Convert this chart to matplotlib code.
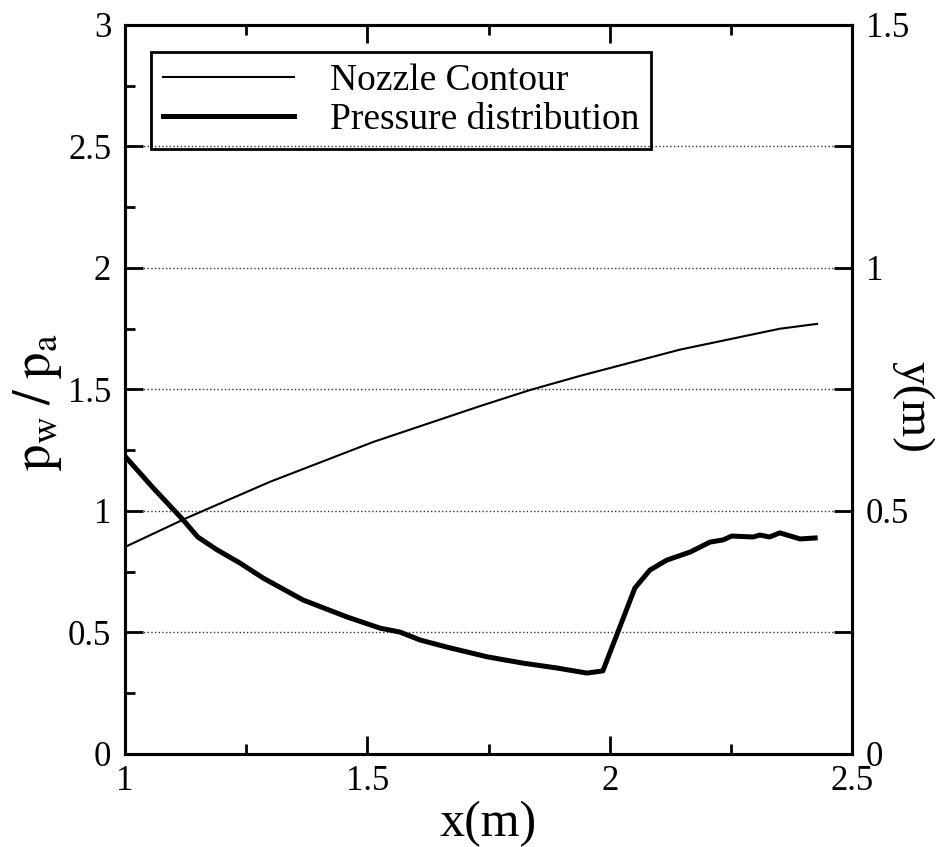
import numpy as np
import matplotlib
matplotlib.use("Agg")
import matplotlib.pyplot as plt
from matplotlib.ticker import MultipleLocator

plt.rcParams['font.family'] = ['Liberation Serif', 'DejaVu Serif']
plt.rcParams['mathtext.fontset'] = 'stix'

# Pressure distribution along the wall (p_w / p_a, left axis)
x_pres = [1.000, 1.058, 1.120, 1.150, 1.190, 1.237, 1.285, 1.367, 1.458, 1.526,
          1.567, 1.609, 1.664, 1.747, 1.821, 1.891, 1.953, 1.986, 2.052, 2.083,
          2.118, 2.166, 2.207, 2.234, 2.252, 2.296, 2.310, 2.330, 2.351, 2.393, 2.424]
p_ratio = [1.225, 1.095, 0.963, 0.893, 0.840, 0.786, 0.724, 0.634, 0.564, 0.518,
           0.502, 0.469, 0.440, 0.400, 0.374, 0.354, 0.333, 0.342, 0.683, 0.757,
           0.798, 0.831, 0.872, 0.881, 0.897, 0.893, 0.901, 0.893, 0.910, 0.885, 0.889]

# Nozzle contour (y in m, right axis)
x_cont = [1.000, 1.128, 1.299, 1.512, 1.733, 1.836, 1.939, 2.145, 2.351, 2.428]
y_cont = [0.426, 0.486, 0.560, 0.642, 0.716, 0.749, 0.778, 0.832, 0.875, 0.885]

fig = plt.figure(figsize=(9.38, 8.47), dpi=100, facecolor='w')
ax = fig.add_axes([0.1333, 0.1098, 0.775, 0.8607])
ax2 = ax.twinx()

l2, = ax.plot(x_pres, p_ratio, c='k', lw=3.6, solid_joinstyle='round',
              label='Pressure distribution', zorder=3)
l1, = ax2.plot(x_cont, y_cont, c='k', lw=1.5, label='Nozzle Contour', zorder=3)

ax.set_xlim(1, 2.5)
ax.set_ylim(0, 3)
ax2.set_ylim(0, 1.5)

ax.xaxis.set_major_locator(MultipleLocator(0.5))
ax.xaxis.set_minor_locator(MultipleLocator(0.25))
ax.yaxis.set_major_locator(MultipleLocator(0.5))
ax.yaxis.set_minor_locator(MultipleLocator(0.25))
ax2.yaxis.set_major_locator(MultipleLocator(0.5))
ax2.yaxis.set_minor_locator(MultipleLocator(0.25))

fmt = lambda v, pos: ('%g' % v)
ax.xaxis.set_major_formatter(fmt)
ax.yaxis.set_major_formatter(fmt)
ax2.yaxis.set_major_formatter(fmt)

ax.yaxis.grid(True, which='major', ls=':', lw=1.0, color='k', alpha=0.8)

ax.tick_params(axis='both', which='major', direction='in', length=13, width=2,
               labelsize=25, top=True, right=False, pad=8)
ax.tick_params(axis='both', which='minor', direction='in', length=7, width=2,
               top=True, right=False)
ax.tick_params(axis='y', which='major', pad=10)
ax2.tick_params(axis='y', which='major', direction='in', length=13, width=2,
                labelsize=25, pad=10)
ax2.tick_params(axis='y', which='minor', direction='in', length=13, width=2)

for a in (ax, ax2):
    for s in a.spines.values():
        s.set_linewidth(2.2)

ax.set_xlabel('x(m)', fontsize=36, labelpad=2)
ax.set_ylabel(r'$\mathrm{p_w\;/\;p_a}$', fontsize=38, va='center', ha='center')
ax.yaxis.set_label_coords(-0.121, 0.483)
ax2.set_ylabel('y(m)', fontsize=34, rotation=270, va='center', ha='center')
ax2.yaxis.set_label_coords(1.084, 0.476)

leg = ax.legend(handles=[l1, l2], loc='upper left', bbox_to_anchor=(0.036, 0.963),
                borderaxespad=0, fontsize=27, frameon=True, fancybox=False,
                edgecolor='k', facecolor='none', framealpha=1,
                handlelength=3.5, handletextpad=0.95, labelspacing=0.12,
                borderpad=0.32)
leg.get_frame().set_linewidth(2)
leg.set_zorder(5)

fig.savefig('out.png', dpi=100, facecolor='w')
